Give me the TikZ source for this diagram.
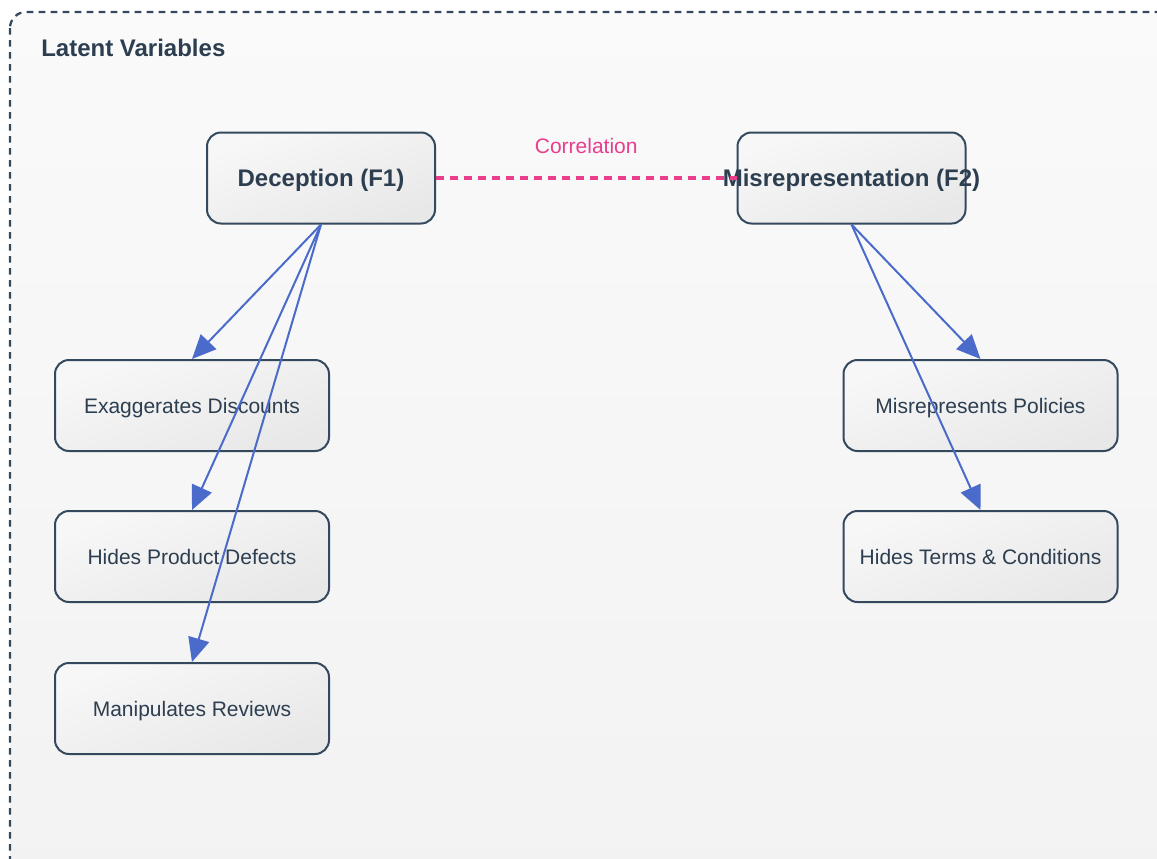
\documentclass[tikz,border=0pt]{standalone}
\usepackage{fontspec}
\setmainfont{Liberation Sans}
\usetikzlibrary{arrows.meta}

\definecolor{ink}{HTML}{2C3E50}
\definecolor{edgegray}{HTML}{34495E}
\definecolor{loadblue}{HTML}{4A6BC9}
\definecolor{corrpink}{HTML}{E83E8C}

\tikzset{
  box/.style={draw=edgegray, line width=1.5pt, rounded corners=10.5pt,
    top color=gray!6, bottom color=gray!18, shading angle=20, text=ink,
    minimum height=68.25pt, inner sep=0pt, text depth=0pt},
  factor/.style={box, minimum width=171pt, text height=12.9pt, font=\fontsize{18}{21}\selectfont\bfseries},
  item/.style={box, minimum width=205.5pt, text height=11.3pt, font=\fontsize{15.75}{19}\selectfont},
  load/.style={draw=loadblue, line width=1.5pt, -{Triangle[length=18pt,width=16pt]}},
  corr/.style={draw=corrpink, line width=3pt, dash pattern=on 6pt off 4.5pt}
}

\begin{document}
\begin{tikzpicture}[x=0.75pt,y=-0.75pt]
  \useasboundingbox (0,0) rectangle (1157,858);
  \clip (0,0) rectangle (1157,858);
  \fill[white] (0,0) rectangle (1157,858);
  \draw[edgegray, line width=1.7pt, dash pattern=on 5pt off 4pt, rounded corners=12pt,
    top color=gray!4, bottom color=gray!10] (10,12) rectangle (1175,875);
  \node[anchor=base west, inner sep=0pt, text=ink, font=\fontsize{18}{21}\selectfont\bfseries] (title) at (41,56) {Latent Variables};

  \node[factor] (f1) at (321,178) {Deception (F1)};
  \node[factor] (f2) at (851.5,178) {\makebox[0pt]{Misrepresentation (F2)}};

  \node[item] (d1) at (192,405.5) {Exaggerates Discounts};
  \node[item] (d2) at (192,556.5) {Hides Product Defects};
  \node[item] (d3) at (192,708.5) {Manipulates Reviews};
  \node[item] (m1) at (980.5,405.5) {Misrepresents Policies};
  \node[item] (m2) at (980.5,556.5) {Hides Terms \& Conditions};

  \foreach \t in {d1,d2,d3}
    \draw[load] (f1.south) -- (\t.north);
  \foreach \t in {m1,m2}
    \draw[load] (f2.south) -- (\t.north);

  \draw[corr] (f1.east) -- node[above=17pt, inner sep=0pt, text=corrpink,
    font=\fontsize{15.75}{19}\selectfont] (corrlab) {Correlation} (f2.west);
\end{tikzpicture}
\end{document}
